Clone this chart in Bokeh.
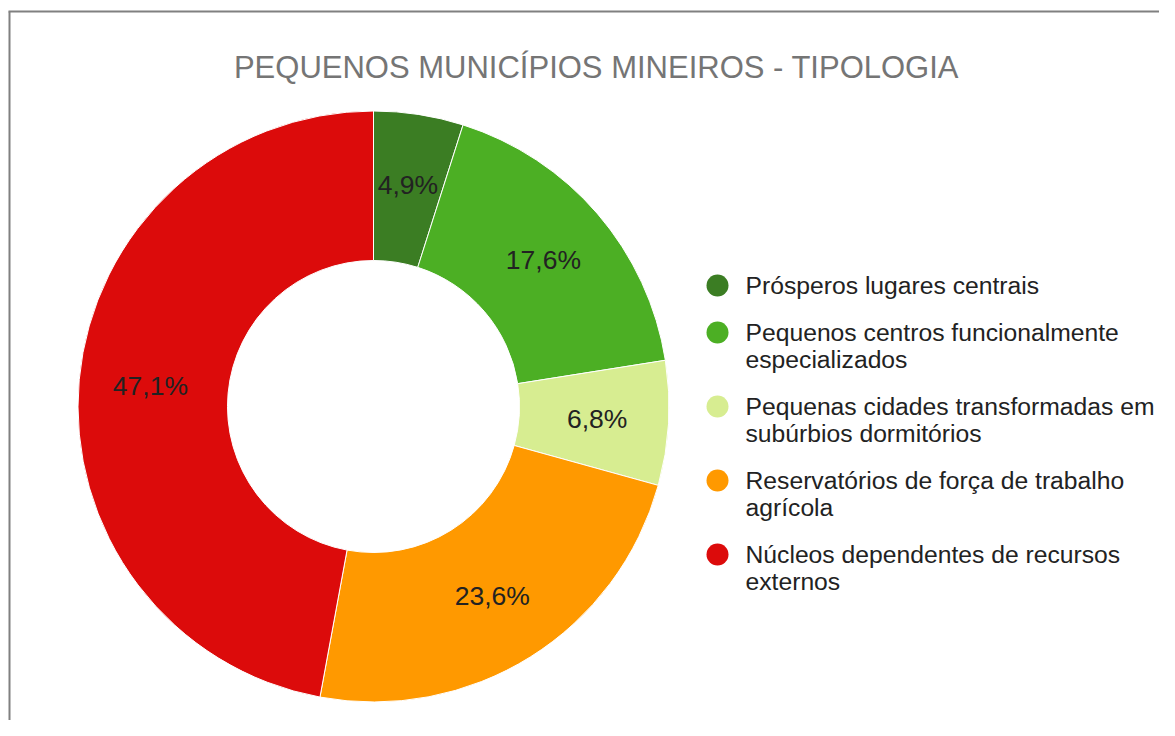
import math
from bokeh.plotting import figure
from bokeh.models import Range1d, ColumnDataSource
from bokeh.core.properties import value
from bokeh.embed import file_html
from bokeh.resources import INLINE

# ---------------- data ----------------
title_text = "PEQUENOS MUNICÍPIOS MINEIROS - TIPOLOGIA"
categories = [
    "Prósperos lugares centrais",
    "Pequenos centros funcionalmente\nespecializados",
    "Pequenas cidades transformadas em\nsubúrbios dormitórios",
    "Reservatórios de força de trabalho\nagrícola",
    "Núcleos dependentes de recursos\nexternos",
]
shares = [4.9, 17.6, 6.8, 23.6, 47.1]
colors = ["#3b7d23", "#4caf24", "#d7ed91", "#ff9900", "#dc0b0b"]

# ---------------- layout ----------------
W, H = 1159, 720
FONT = "Liberation Sans"


def px(xp):
    return xp


def py(yp):
    return H - yp


p = figure(width=W, height=H, output_backend="svg", toolbar_location=None,
           x_range=Range1d(0, W), y_range=Range1d(0, H),
           min_border=0, min_border_left=0, min_border_right=0,
           min_border_top=0, min_border_bottom=0)
p.axis.visible = False
p.xgrid.visible = False
p.ygrid.visible = False
p.outline_line_color = None
p.background_fill_color = "white"
p.border_fill_color = "white"

# frame border (top & left visible)
p.segment(x0=[px(8), px(9)], y0=[py(11), py(11)], x1=[W, px(9)], y1=[py(11), 0],
          line_color="#808080", line_width=2)

# donut
cx, cy = px(373), py(406)
R_out, R_in = 295.5, 146
total = sum(shares)
starts, ends, mids = [], [], []
acc = 0.0
for v in shares:
    a0 = acc / total
    acc += v
    a1 = acc / total
    starts.append(math.pi / 2 - 2 * math.pi * a0)
    ends.append(math.pi / 2 - 2 * math.pi * a1)
    mids.append(math.pi / 2 - 2 * math.pi * (a0 + a1) / 2)

src = ColumnDataSource(dict(start=starts, end=ends, color=colors))
p.annular_wedge(x=cx, y=cy, inner_radius=R_in, outer_radius=R_out,
                start_angle="start", end_angle="end", direction="clock",
                fill_color="color", line_color="white", line_width=1, source=src)

# slice labels
R_lab = 224
lab_x = [cx + R_lab * math.cos(m) for m in mids]
lab_y = [cy + R_lab * math.sin(m) for m in mids]
lab_t = [("%.1f" % v).replace(".", ",") + "%" for v in shares]
p.text(x=lab_x, y=lab_y, text=lab_t, text_font=value(FONT),
       text_font_size="26.5px", text_color="#222222",
       text_align="center", text_baseline="middle")

# title
p.text(x=[px(596)], y=[py(67)], text=[title_text], text_font=value(FONT),
       text_font_size="31px", text_color="#757575",
       text_align="center", text_baseline="middle")

# legend
line_h = 27
gap = 20
y_cur = 285
mk_x, mk_y, tx_x, tx_y, tx_t = [], [], [], [], []
for cat in categories:
    lines = cat.split("\n")
    mk_x.append(px(717))
    mk_y.append(py(y_cur))
    for i, ln in enumerate(lines):
        tx_x.append(px(745))
        tx_y.append(py(y_cur + i * line_h))
        tx_t.append(ln)
    y_cur += len(lines) * line_h + gap

p.scatter(x=mk_x, y=mk_y, size=22, marker="circle", fill_color=colors,
          line_color=None)
p.text(x=tx_x, y=tx_y, text=tx_t, text_font=value(FONT),
       text_font_size="24.7px", text_color="#222222",
       text_align="left", text_baseline="middle")

open("out.html", "w").write(file_html(p, INLINE))
